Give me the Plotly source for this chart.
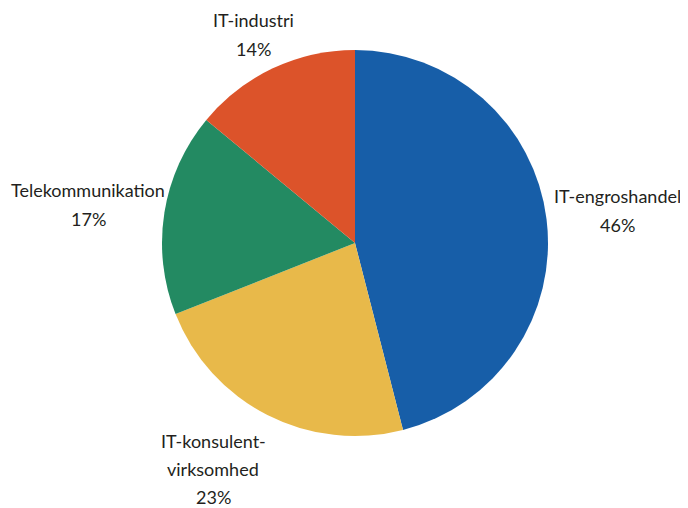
import plotly.graph_objects as go

labels = ["IT-engroshandel", "IT-konsulent-virksomhed", "Telekommunikation", "IT-industri"]
label_lines = [["IT-engroshandel"], ["IT-konsulent-", "virksomhed"], ["Telekommunikation"], ["IT-industri"]]
values = [46, 23, 17, 14]
colors = ["#175ea8", "#e8b94a", "#238a62", "#dc532a"]

# page body has an 8px margin, so the visible figure area is 680x500
OFF = 8
W, H = 688 - OFF, 508 - OFF
cx, cy, r = 355 - OFF, 243 - OFF, 193

fig = go.Figure(go.Pie(
    labels=labels, values=values, sort=False, direction="clockwise", rotation=0,
    marker=dict(colors=colors, line=dict(width=0)),
    textinfo="none", hoverinfo="label+percent",
    domain=dict(x=[(cx - r) / W, (cx + r) / W], y=[(H - cy - r) / H, (H - cy + r) / H]),
    showlegend=False,
))

# centre x, first-line centre y and line spacing of each label (pixels in the reference)
label_pos = [(617, 196, 29), (213, 441, 28), (88, 190, 29), (253, 20, 29)]
for lines, v, (x, y, step) in zip(label_lines, values, label_pos):
    for i, line in enumerate(lines + [f"{v}%"]):
        fig.add_annotation(
            x=(x - OFF) / W, y=1 - (y + i * step - OFF) / H, xref="paper", yref="paper",
            text=line, showarrow=False, xanchor="center", yanchor="middle",
            font=dict(family="Lato, Open Sans, sans-serif", size=18, color="#231f20"),
        )

fig.update_layout(width=W, height=H, margin=dict(l=0, r=0, t=0, b=0),
                  paper_bgcolor="white", plot_bgcolor="white")
fig.write_html("out.html")
